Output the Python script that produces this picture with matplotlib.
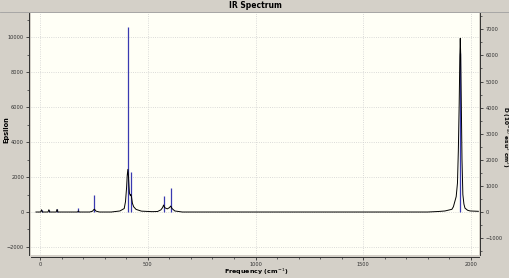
import numpy as np
import matplotlib.pyplot as plt
from matplotlib.ticker import MultipleLocator

# broadened spectrum (Epsilon)
curve_freq = [-20, 2, 6, 10, 36, 40, 44, 74, 78, 82, 173, 177, 181,
              230, 243, 249, 251, 253, 259, 275,
              330, 370, 390, 396, 401, 404, 407, 410, 414, 418, 421, 424, 428, 434, 445, 470, 520,
              545, 560, 568, 573, 578, 590, 600, 606, 612, 625, 660,
              1800, 1850, 1880, 1912, 1919, 1932, 1938, 1942, 1946, 1949, 1951,
              1953, 1956, 1959, 1963, 1968, 1973, 1985, 1997, 2035]
curve_eps = [0, 0, 130, 0, 0, 130, 0, 0, 150, 0, 0, 60, 0,
             0, 50, 140, 160, 140, 50, 0,
             0, 60, 200, 600, 1400, 2100, 2440, 2000, 1100, 950, 1000, 850, 500, 300, 150, 50, 20,
             30, 120, 250, 400, 250, 180, 250, 340, 200, 60, 0,
             0, 30, 60, 155, 300, 880, 1660, 3500, 6200, 8900, 9940,
             9000, 6000, 3000, 1000, 450, 220, 100, 60, 40]

# dipole strengths (sticks, right axis)
stick_freq = [6, 40, 78, 177, 251, 408, 421, 574, 606, 1951]
stick_d = [80, 80, 100, 170, 640, 7100, 1550, 625, 930, 6100]

x_ticks = [0, 500, 1000, 1500, 2000]
eps_ticks = [-2000, 0, 2000, 4000, 6000, 8000, 10000]
d_ticks = [-1000, 0, 1000, 2000, 3000, 4000, 5000, 6000, 7000]

bg = '#d4d0c8'
fig = plt.figure(figsize=(5.1, 2.78), dpi=100, facecolor=bg)
W, H = 510, 278
ax = fig.add_axes([31 / W, (H - 255) / H, 448 / W, 242 / H])
ax2 = ax.twinx()

eps_lim = (-2460, 11390)
d_lim = (-1648, 7625)
ax.set_xlim(-43, 2038)
ax.set_ylim(*eps_lim)
ax2.set_ylim(*d_lim)

def eps_to_d(v):
    return d_lim[0] + (v - eps_lim[0]) / (eps_lim[1] - eps_lim[0]) * (d_lim[1] - d_lim[0])

# ax2 is drawn behind: background, grid, sticks
ax2.patch.set_visible(True)
ax2.patch.set_facecolor('#fffff6')
for x in x_ticks:
    ax2.axvline(x, color='#cfcfcf', ls=':', lw=0.6, zorder=0)
for y in eps_ticks:
    ax2.axhline(eps_to_d(y), color='#cfcfcf', ls=':', lw=0.6, zorder=0)
ax2.vlines(stick_freq, 0, stick_d, color='#3a3ab0', lw=0.9, zorder=1)

ax.set_zorder(ax2.get_zorder() + 1)
ax.patch.set_visible(False)
ax.plot(curve_freq, curve_eps, color='black', lw=0.7, zorder=3)

ax.set_xticks(x_ticks)
ax.xaxis.set_minor_locator(MultipleLocator(100))
ax.set_yticks(eps_ticks)
ax.yaxis.set_minor_locator(MultipleLocator(1000))
ax2.set_yticks(d_ticks)
ax2.yaxis.set_minor_locator(MultipleLocator(500))

for a in (ax, ax2):
    a.tick_params(which='major', length=2.5, width=0.6, labelsize=3.6, colors='#303030', pad=1)
    a.tick_params(which='minor', length=1.6, width=0.5, colors='#303030')
    for s in a.spines.values():
        s.set_color('#303030')
        s.set_linewidth(0.6)
    a.spines['top'].set_visible(False)
    a.spines['left'].set_position(('outward', 1.5))
    a.spines['bottom'].set_position(('outward', 1.5))
    a.spines['right'].set_position(('outward', 1))
ax2.tick_params(axis='x', which='both', bottom=False, labelbottom=False)

# title band
fig.add_artist(plt.Line2D([0, 1], [1 - 12 / H, 1 - 12 / H], color='#a0a0a0', lw=0.6))
fig.text(0.5, 1 - 6 / H, 'IR Spectrum', ha='center', va='center', fontsize=5.5, fontweight='bold')
fig.text(256 / W, 1 - 272 / H, 'Frequency (cm$^{-1}$)', ha='center', va='center',
         fontsize=4.6, fontweight='bold')
fig.text(6 / W, 1 - 130 / H, 'Epsilon', rotation=90, ha='center', va='center',
         fontsize=4.8, fontweight='bold')
fig.text(505 / W, 1 - 137 / H, 'D (10$^{-40}$ esu$^{2}$ cm$^{2}$)', rotation=-90,
         ha='center', va='center', fontsize=4.2, fontweight='bold')

fig.savefig('out.png', dpi=100, facecolor=bg)
